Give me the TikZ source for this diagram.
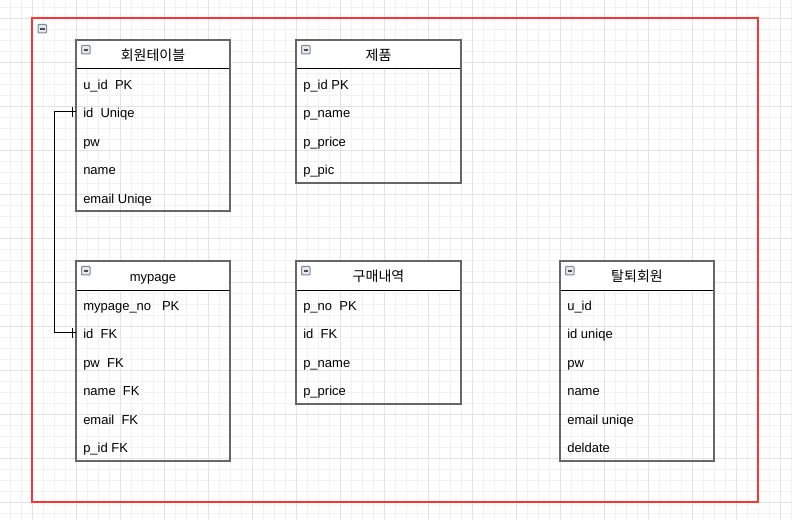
\documentclass[tikz,border=0pt]{standalone}
\usepackage{fontspec}
\setmainfont{Liberation Sans}
\newfontfamily\kr{Noto Sans CJK KR}
\newcommand{\krt}[1]{{\kr\fontsize{10.5pt}{12pt}\selectfont #1}}
\definecolor{gridminor}{HTML}{F2F2F2}
\definecolor{gridmajor}{HTML}{E3E3E3}
\definecolor{boxline}{HTML}{666666}
\definecolor{iconline}{HTML}{7E8A96}
\definecolor{iconfill}{HTML}{E4E8EC}
\definecolor{frame}{HTML}{FF3333}
\tikzset{
  minorline/.style={gridminor, line width=0.75pt},
  majorline/.style={gridmajor, line width=0.75pt},
  boxedge/.style={boxline, line width=1.5pt},
  hdrsep/.style={black, line width=0.75pt},
  titletxt/.style={inner sep=0pt, text height=7pt, text depth=0pt, font=\fontsize{9.75pt}{11pt}\selectfont},
  rowtxt/.style={inner xsep=5.25pt, inner ysep=0pt, text height=7pt, text depth=0pt, anchor=west, font=\fontsize{9.75pt}{11pt}\selectfont},
  iconbox/.style={draw=iconline, fill=iconfill, line width=0.75pt, rounded corners=0.6pt},
  iconbar/.style={black!70, line width=1.2pt},
  relation/.style={black, line width=0.75pt},
}
% #1 name, #2 x, #3 y, #4 width, #5 number of rows, #6 title, #7 rows
\newcommand{\ertable}[7]{%
  \fill[white] (#2,#3) rectangle ++(#4,29);
  \node[titletxt] (#1-h) at ({#2+#4/2},{#3+15.5}) {#6};
  \draw[iconbox] ({#2+5.5},{#3+5.5}) rectangle ++(8.5,8.5);
  \draw[iconbar] ({#2+7.5},{#3+9.75}) -- ++(4.5,0);
  \foreach \r [count=\k] in {#7} {
    \node[rowtxt] (#1-r\k) at (#2,{#3+29+28.5*\k-12.75}) {\r};
  }
  \draw[hdrsep] (#2,{#3+29}) -- ++(#4,0);
  \draw[boxedge] (#2,#3) rectangle ++(#4,{29+28.5*#5});
}
\begin{document}
\begin{tikzpicture}[x=0.75pt,y=-0.75pt]
\useasboundingbox (0,0) rectangle (792,520);
\fill[white] (0,0) rectangle (792,520);
% grid
\foreach \i in {0,...,71} \draw[minorline] ({10.5+11*\i},0) -- ++(0,520);
\foreach \i in {0,...,46} \draw[minorline] (0,{7.5+11*\i}) -- ++(792,0);
\foreach \i in {0,...,17} \draw[majorline] ({32.5+44*\i},0) -- ++(0,520);
\foreach \i in {0,...,11} \draw[majorline] (0,{18.5+44*\i}) -- ++(792,0);
% outer container
\draw[frame, line width=1.1pt] (32,18) rectangle (758,502);
\draw[iconbox] (38,24.5) rectangle ++(8.5,8.5);
\draw[iconbar] (40,28.75) -- ++(4.5,0);
% tables
\ertable{mem}{76}{40}{154}{5}{\krt{회원테이블}}{u\_id\ \ PK,id\ \ Uniqe,pw,name,email Uniqe}
\ertable{prod}{296}{40}{165}{4}{\krt{제품}}{p\_id PK,p\_name,p\_price,p\_pic}
\ertable{my}{76}{261}{154}{6}{mypage}{mypage\_no\ \ \ PK,id\ \ FK,pw\ \ FK,name\ \ FK,email\ \ FK,p\_id FK}
\ertable{buy}{296}{261}{165}{4}{\krt{구매내역}}{p\_no\ \ PK,id\ \ FK,p\_name,p\_price}
\ertable{quit}{560}{261}{154}{6}{\krt{탈퇴회원}}{u\_id,id uniqe,pw,name,email uniqe,deldate}
% relation
\coordinate (relA) at ([yshift=1.2pt]mem-r2.west);
\coordinate (relB) at ([yshift=1.2pt]my-r2.west);
\draw[relation] (relA) -- ++(-22,0) |- (relB);
\draw[relation] ([xshift=-3pt]relA) ++(0,-5) -- ++(0,10);
\draw[relation] ([xshift=-3pt]relB) ++(0,-5) -- ++(0,10);
\end{tikzpicture}
\end{document}
